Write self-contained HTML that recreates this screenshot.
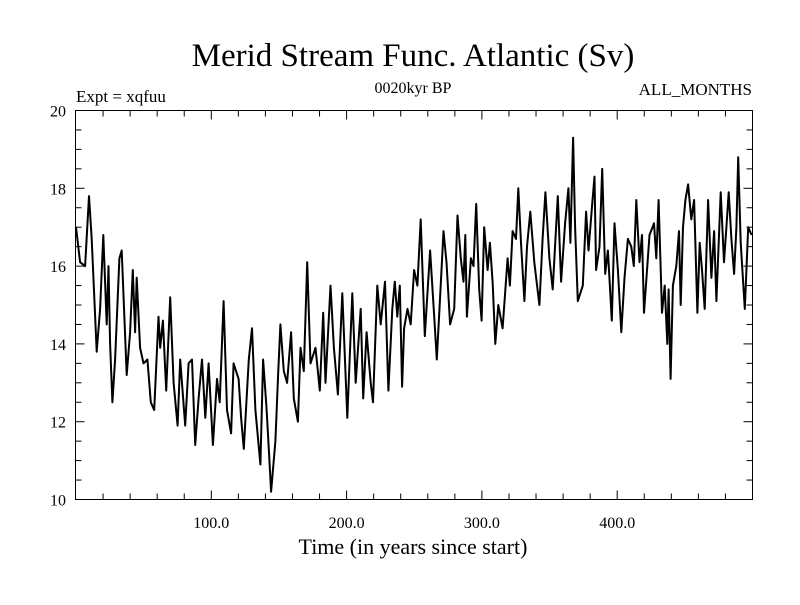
<!DOCTYPE html>
<html><head><meta charset="utf-8"><style>
html,body{margin:0;padding:0;background:#fff;}
svg text{font-family:"Liberation Serif",serif;fill:#000;}
</style></head><body>
<svg id="chart" width="800" height="600" xmlns="http://www.w3.org/2000/svg">
<text x="413" y="66" font-size="33" text-anchor="middle">Merid Stream Func. Atlantic (Sv)</text>
<text x="76" y="102" font-size="17">Expt = xqfuu</text>
<text x="413" y="93" font-size="16" text-anchor="middle">0020kyr BP</text>
<text x="752" y="95" font-size="17" text-anchor="end">ALL_MONTHS</text>
<text x="413" y="554" font-size="22" text-anchor="middle">Time (in years since start)</text>
<g id="axes"></g>
<g id="series"></g>
<rect x="75.5" y="110.5" width="677" height="389" fill="none" stroke="#000" stroke-width="1"/>
</svg>
<script>
const years=[0,3,6.7,9.6,11.6,15.3,17.8,20.2,22.7,24,25.2,26.9,28.9,32.1,33.8,37.5,40,42,43.7,44.9,47.4,49.9,52.8,55.3,57.8,61,62.2,64.2,66.7,69.6,72.1,75.1,77,80.7,83.2,85.7,88.1,90.6,93.1,95.6,98,101.2,104.2,106.2,109.1,111.6,114.6,116.5,120.2,122,124,127.7,130.1,132.6,136.3,138.3,140.7,142.5,144.2,147.4,149.4,151.1,153.6,156,159,161,164,165.9,168.4,170.9,173.3,177,180.2,182.7,184.4,188.1,190.6,193.6,196.8,200.5,204.2,206.7,210.4,212.3,214.8,217.8,219.5,222.7,225.2,228.4,230.9,233.8,235.6,237.5,239.3,241,242.5,245,247.4,249.9,252.3,254.8,257.8,261.7,264.2,266.7,269.1,271.6,273.8,276.5,279.5,282,284.4,286.4,287.7,288.9,291.9,293.8,295.8,298,299.8,301.7,304.2,305.9,307.9,309.9,312.1,315.3,319,320.7,322.7,325.2,326.9,328.9,331.4,333.3,335.8,338.7,342.5,344.9,346.9,349.9,352.3,356.1,358.5,361.5,363.9,365.4,367.4,368.9,370.9,374.6,377,378.8,381.5,383.2,384.4,386.9,388.9,391.1,393.1,396,398,400.5,403,405.4,407.9,410.4,412.3,414.1,416.5,418.3,419.8,423.9,427.2,428.9,430.6,433.1,435.1,437,438,439.5,441.2,443.7,445.7,446.9,448.6,450.4,452.4,454.8,456.8,459.3,461,462.7,464.7,467.2,469.6,471.6,473.3,476.5,478.9,480.7,482.4,484.4,486.4,488.1,489.4,491.3,494.3,496.8,499.3];
const values=[17.0,16.1,16.0,17.8,16.7,13.8,14.9,16.8,14.5,16.0,14.0,12.5,13.6,16.2,16.4,13.2,14.3,15.9,14.3,15.7,13.9,13.5,13.6,12.5,12.3,14.7,13.9,14.6,12.8,15.2,13.0,11.9,13.6,11.9,13.5,13.6,11.4,12.6,13.6,12.1,13.5,11.4,13.1,12.5,15.1,12.3,11.7,13.5,13.1,12.1,11.3,13.6,14.4,12.3,10.9,13.6,12.4,11.3,10.2,11.5,13.2,14.5,13.3,13.0,14.3,12.6,12.0,13.9,13.3,16.1,13.5,13.9,12.8,14.8,13.0,15.5,13.9,12.7,15.3,12.1,15.3,13.0,14.9,12.6,14.3,13.0,12.5,15.5,14.5,15.6,12.8,14.9,15.6,14.7,15.5,12.9,14.4,14.9,14.5,15.9,15.5,17.2,14.2,16.4,15.0,13.6,15.2,16.9,16.1,14.5,14.9,17.3,16.2,15.6,16.8,14.7,16.2,16.0,17.6,15.4,14.6,17.0,15.9,16.6,15.6,14.0,15.0,14.4,16.2,15.5,16.9,16.7,18.0,16.6,15.1,16.5,17.4,16.1,15.0,16.7,17.9,16.2,15.4,17.8,15.6,17.1,18.0,16.6,19.3,17.0,15.1,15.5,17.4,16.4,17.6,18.3,15.9,16.5,18.5,15.8,16.4,14.6,17.1,15.9,14.3,15.7,16.7,16.5,16.0,17.7,16.1,16.8,14.8,16.8,17.1,16.2,17.7,14.8,15.5,14.0,15.4,13.1,15.5,16.0,16.9,15.0,17.0,17.7,18.1,17.2,17.7,14.8,16.6,15.9,14.9,17.7,15.7,16.9,15.1,17.9,16.1,17.0,17.9,16.7,15.8,17.0,18.8,16.6,14.9,17.0,16.8];
const yTicks=[10,12,14,16,18,20];
const xTicks=[100,200,300,400];
const xLabels=["100.0","200.0","300.0","400.0"];

const X0=75.5,X1=752.5,Y0=110.5,Y1=499.5;
const xs=v=>76+v*1.353;
const ys=v=>Y1-(v-10)*(Y1-Y0)/10;
const NS="http://www.w3.org/2000/svg";
const axes=document.getElementById('axes');
function mk(tag,attrs,parent){const e=document.createElementNS(NS,tag);for(const k in attrs)e.setAttribute(k,attrs[k]);parent.appendChild(e);return e;}
// y ticks
for(let v=10;v<=20.001;v+=0.5){
  const y=ys(v);const major=Math.abs(v-Math.round(v/2)*2)<1e-6;const L=major?9:6;
  const t1=mk('line',{x1:X0,x2:X0+L,y1:y,y2:y,stroke:'#000','stroke-width':1},axes);
  
  
  const t2=mk('line',{x1:X1,x2:X1-L,y1:y,y2:y,stroke:'#000','stroke-width':1},axes);
  
  
}
yTicks.forEach(v=>{
  const t=mk('text',{x:66,y:ys(v)+6,'font-size':16,'text-anchor':'end'},axes);t.textContent=String(v);
  
  
});
// x ticks
for(let v=20;v<=500;v+=20){
  const x=xs(v);if(x>X1)break;const major=v%100===0;const L=major?9:6;
  const t1=mk('line',{x1:x,x2:x,y1:Y1,y2:Y1-L,stroke:'#000','stroke-width':1},axes);
  
  
  const t2=mk('line',{x1:x,x2:x,y1:Y0,y2:Y0+L,stroke:'#000','stroke-width':1},axes);
  
  
}
xTicks.forEach((v,i)=>{
  const t=mk('text',{x:xs(v),y:528,'font-size':16,'text-anchor':'middle'},axes);t.textContent=xLabels[i];
  
  
});
// series
const pts=years.map((yr,i)=>xs(yr).toFixed(1)+','+ys(values[i]).toFixed(1)).join(' ');
const line=mk('polyline',{points:pts,fill:'none',stroke:'#000','stroke-width':2,'stroke-linejoin':'round'},document.getElementById('series'));


</script>
</body></html>
